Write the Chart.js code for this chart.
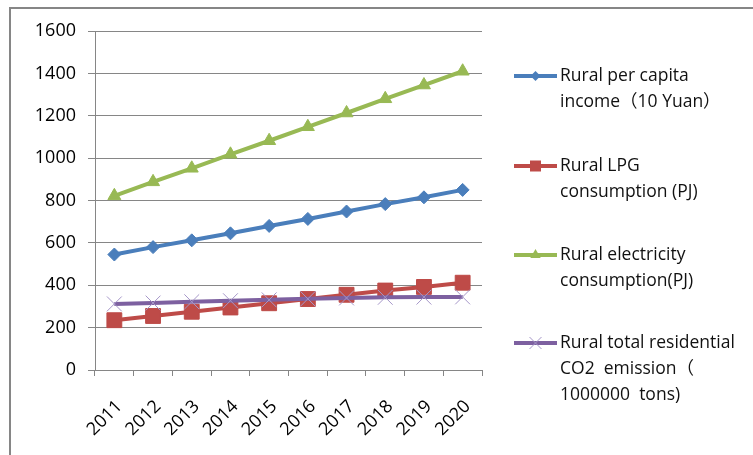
<!DOCTYPE html>
<html>
<head>
<meta charset="utf-8">
<script src="https://cdn.jsdelivr.net/npm/chart.js@4"></script>
<style>
html,body{margin:0;padding:0;background:#fff;}
#wrap{position:relative;width:753px;height:455px;}
</style>
</head>
<body>
<div id="wrap"><canvas id="c" width="753" height="455"></canvas></div>
<script>
const years = ['2011','2012','2013','2014','2015','2016','2017','2018','2019','2020'];
const income = [545, 580, 612, 645, 680, 713, 748, 783, 815, 850];
const lpg = [235, 255, 275, 295, 315, 335, 355, 375, 392, 412];
const electricity = [822, 888, 952, 1018, 1082, 1148, 1213, 1280, 1345, 1410];
const co2 = [312, 316, 322, 327, 331, 336, 340, 343, 344, 345];
const seriesNames = [
  ['Rural per capita', 'income（10 Yuan）'],
  ['Rural LPG', 'consumption (PJ)'],
  ['Rural electricity', 'consumption(PJ)'],
  ['Rural total residential', 'CO2  emission（', '1000000  tons)']
];

const FONT = "'Open Sans', 'Noto Sans CJK SC', sans-serif";
const GRID = '#868686';

const legendPlugin = {
  id: 'customLegend',
  afterDraw(chart) {
    const ctx = chart.ctx;
    ctx.save();
    ctx.strokeStyle = GRID;
    ctx.lineWidth = 2;
    ctx.beginPath();
    ctx.moveTo(10, 455);
    ctx.lineTo(10, 8);
    ctx.lineTo(753, 8);
    ctx.stroke();

    const ys = [76, 166, 255, 343];
    chart.data.datasets.forEach((ds, i) => {
      const y = ys[i];
      ctx.strokeStyle = ds.borderColor;
      ctx.lineWidth = 4;
      ctx.beginPath();
      ctx.moveTo(514, y);
      ctx.lineTo(557, y);
      ctx.stroke();
      const cx = 535.5;
      ctx.fillStyle = ds.pointBackgroundColor;
      ctx.strokeStyle = ds.pointBorderColor;
      ctx.lineWidth = 1;
      ctx.beginPath();
      if (ds.pointStyle === 'rectRot') {
        const r = 5;
        ctx.moveTo(cx - r, y); ctx.lineTo(cx, y - r); ctx.lineTo(cx + r, y); ctx.lineTo(cx, y + r); ctx.closePath();
        ctx.fill();
      } else if (ds.pointStyle === 'rect') {
        const s = 5.5;
        ctx.rect(cx - s, y - s, 2 * s, 2 * s);
        ctx.fill();
      } else if (ds.pointStyle === 'triangle') {
        const r = 6;
        ctx.moveTo(cx, y - r); ctx.lineTo(cx + r * 0.866, y + r * 0.5); ctx.lineTo(cx - r * 0.866, y + r * 0.5); ctx.closePath();
        ctx.fill();
      } else {
        const s = 6;
        ctx.moveTo(cx - s, y - s); ctx.lineTo(cx + s, y + s);
        ctx.moveTo(cx + s, y - s); ctx.lineTo(cx - s, y + s);
        ctx.stroke();
      }
      ctx.fillStyle = '#111';
      ctx.font = '17.5px ' + FONT;
      ctx.textAlign = 'left';
      ctx.textBaseline = 'middle';
      seriesNames[i].forEach((t, k) => {
        ctx.fillText(t, 560, y + k * 26);
      });
    });
    ctx.restore();
  }
};

new Chart(document.getElementById('c'), {
  type: 'line',
  data: {
    labels: years,
    datasets: [
      { label: seriesNames[0].join(' '), data: income, borderColor: '#4a7ebb', backgroundColor: '#4a7ebb',
        pointStyle: 'rectRot', pointRadius: 6.5, pointBackgroundColor: '#4a7ebb', pointBorderColor: '#4a7ebb', pointBorderWidth: 1, borderWidth: 4, order: 3 },
      { label: seriesNames[1].join(' '), data: lpg, borderColor: '#be4b48', backgroundColor: '#be4b48',
        pointStyle: 'rect', pointRadius: 10.5, pointBackgroundColor: '#be4b48', pointBorderColor: '#be4b48', pointBorderWidth: 1, borderWidth: 4, order: 2 },
      { label: seriesNames[2].join(' '), data: electricity, borderColor: '#98b954', backgroundColor: '#98b954',
        pointStyle: 'triangle', pointRadius: 7.5, pointBackgroundColor: '#98b954', pointBorderColor: '#98b954', pointBorderWidth: 1, borderWidth: 4, order: 1 },
      { label: seriesNames[3].join(' '), data: co2, borderColor: '#7d60a0', backgroundColor: '#7d60a0',
        pointStyle: 'crossRot', pointRadius: 10.5, pointBackgroundColor: '#a596c8', pointBorderColor: '#a596c8', pointBorderWidth: 1, borderWidth: 4, order: 0 }
    ]
  },
  options: {
    responsive: false,
    animation: false,
    devicePixelRatio: 1,
    layout: { padding: { top: 31, right: 271, bottom: 0, left: 0 } },
    plugins: { legend: { display: false }, tooltip: { enabled: false } },
    elements: { line: { tension: 0 } },
    scales: {
      x: {
        offset: true,
        grid: { display: true, drawOnChartArea: false, drawTicks: true, tickLength: 6, color: GRID, offset: true },
        border: { display: true, color: GRID, width: 1 },
        ticks: { color: '#000', font: { family: FONT, size: 18 }, minRotation: 45, maxRotation: 45, padding: 20, labelOffset: 5, autoSkip: false },
        afterFit(s) { s.height = 85; }
      },
      y: {
        min: 0, max: 1600,
        ticks: { stepSize: 200, color: '#000', font: { family: FONT, size: 18 }, padding: 12, callback: v => String(v) },
        grid: { color: GRID, lineWidth: 1, tickLength: 7, drawTicks: true },
        border: { display: true, color: GRID, width: 1 },
        afterFit(s) { s.width = 95; }
      }
    }
  },
  plugins: [legendPlugin]
});
</script>
</body>
</html>
